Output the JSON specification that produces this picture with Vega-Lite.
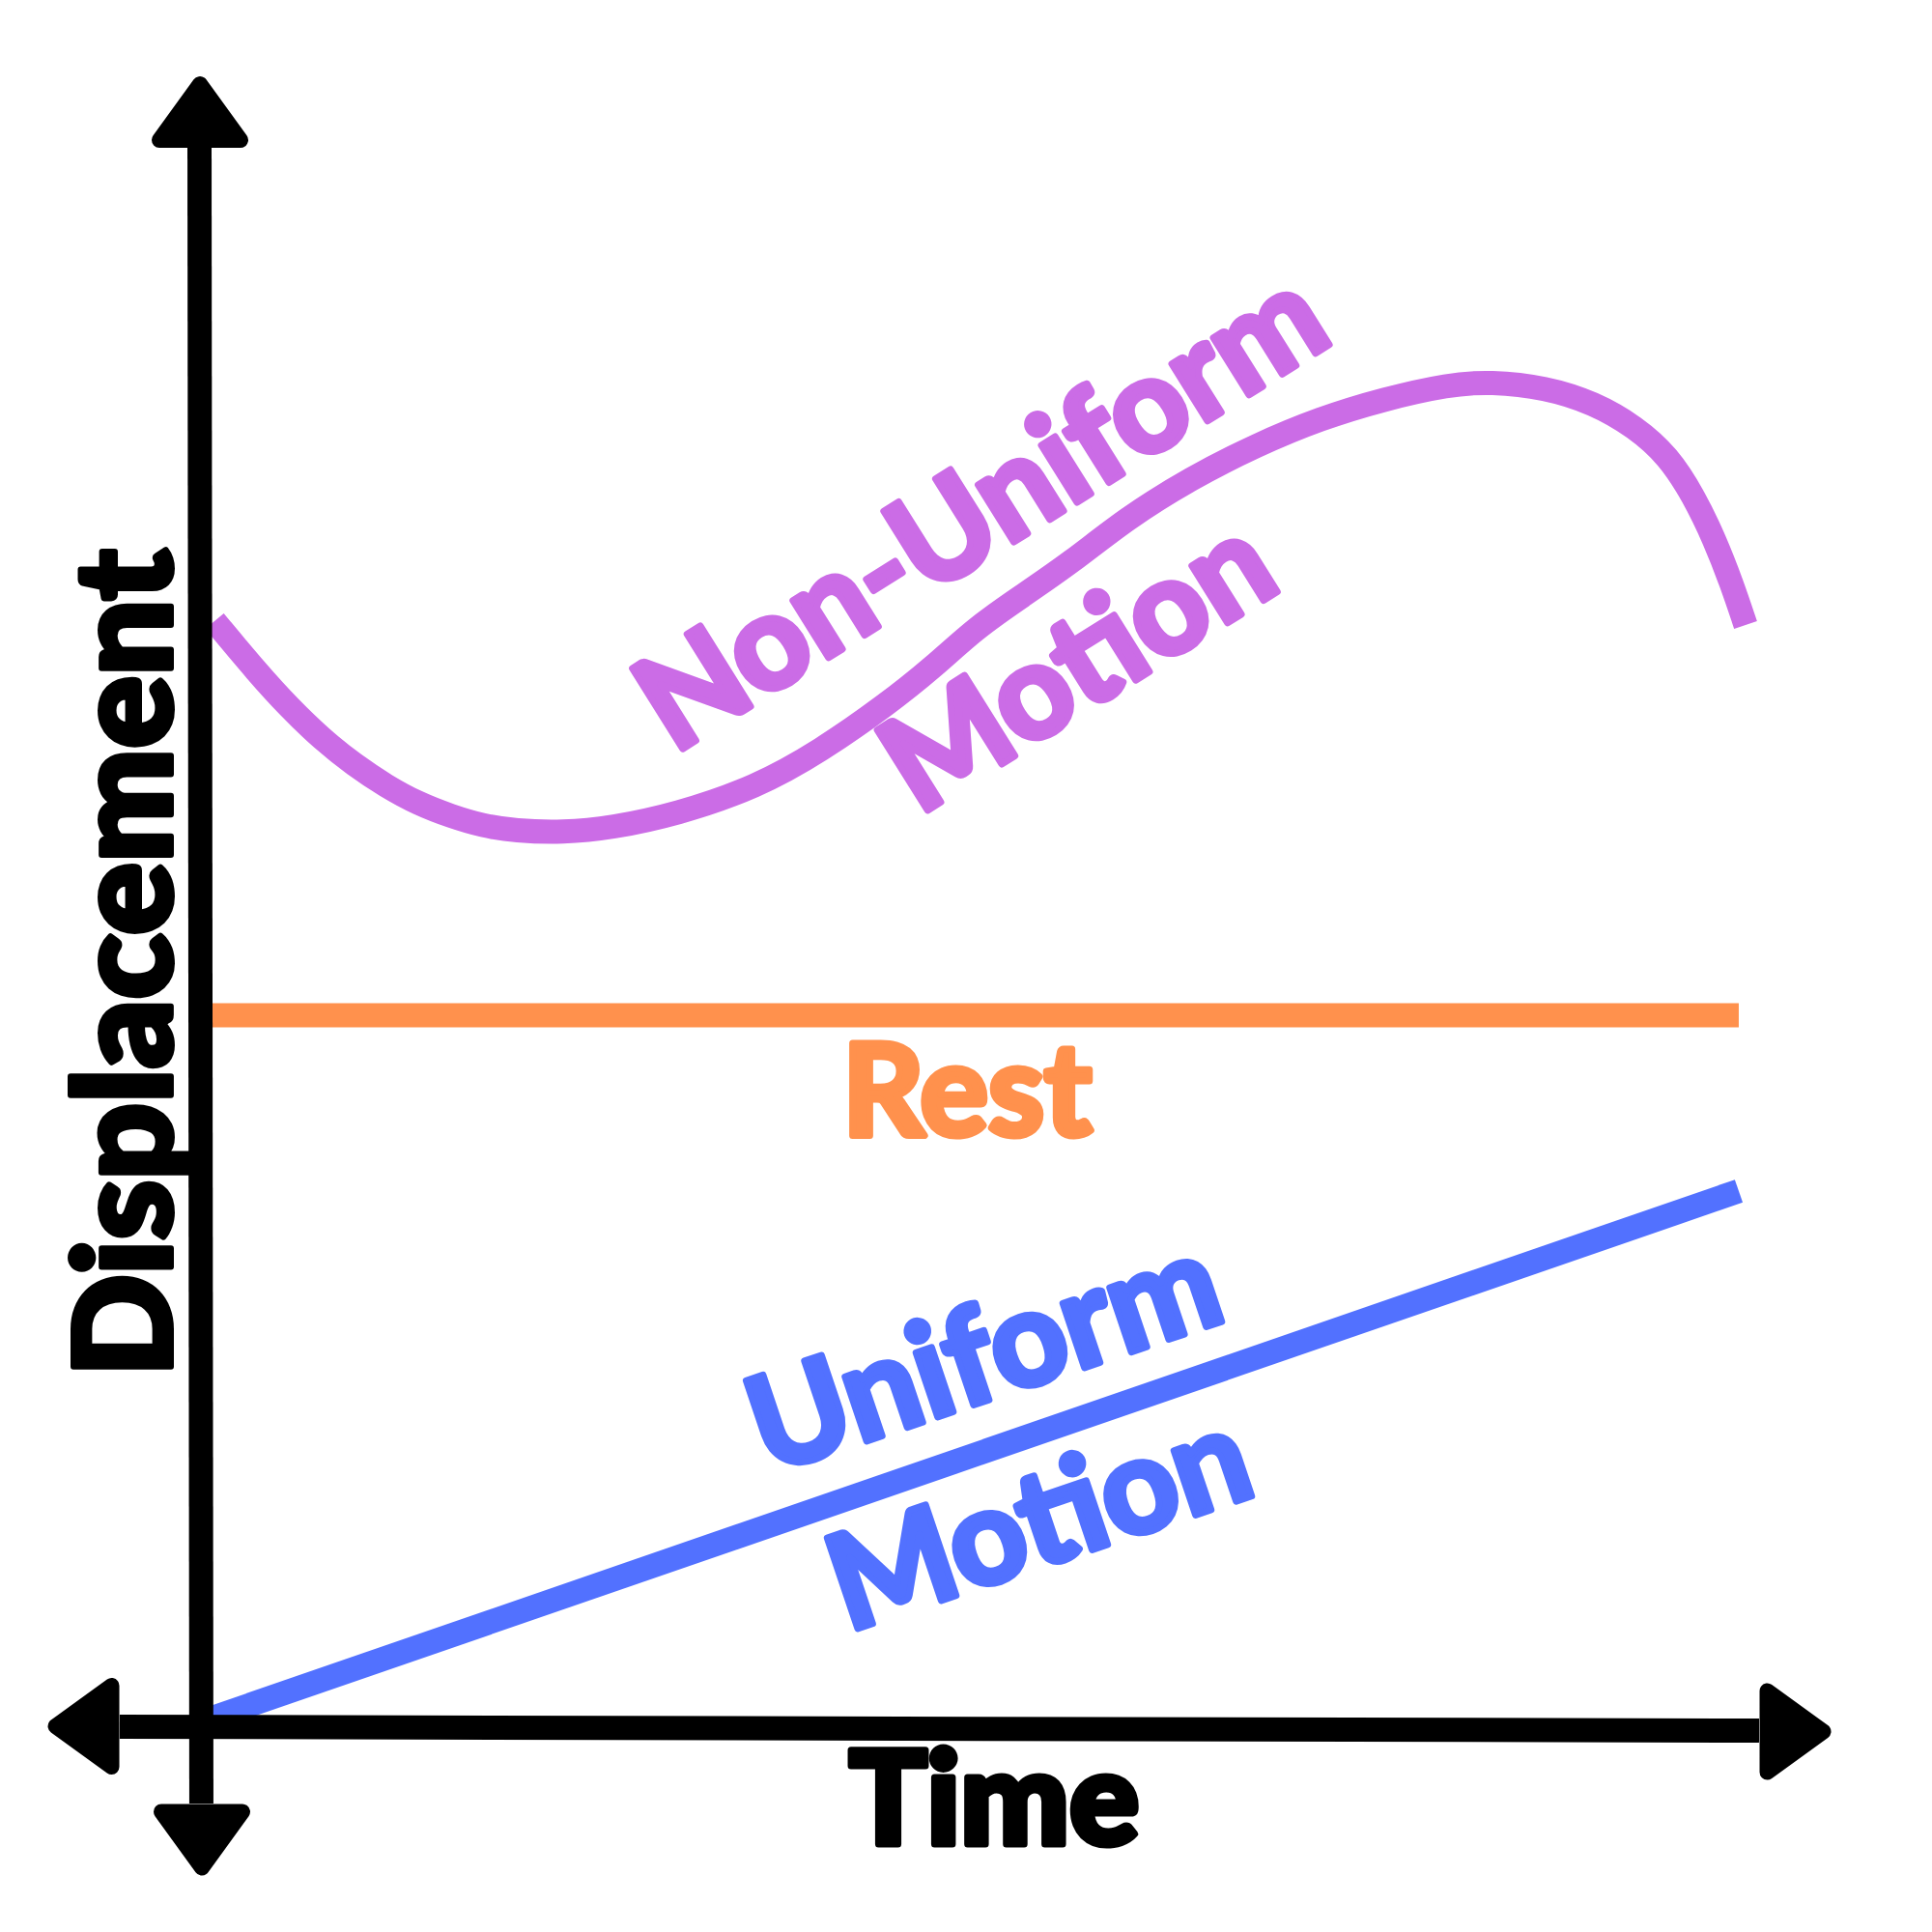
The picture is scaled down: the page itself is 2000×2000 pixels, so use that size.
{
  "$schema": "https://vega.github.io/schema/vega-lite/v6.json",
  "width": 2000,
  "height": 2000,
  "padding": 0,
  "autosize": {"type": "fit", "contains": "padding"},
  "background": "white",
  "config": {"view": {"stroke": null}},
  "encoding": {
    "x": {"field": "t", "type": "quantitative", "axis": null, "scale": {"domain": [-1.29375, 11.20625], "nice": false, "zero": false}},
    "y": {"field": "s", "type": "quantitative", "axis": null, "scale": {"domain": [-1.31875, 11.18125], "nice": false, "zero": false}}
  },
  "layer": [
    {
      "data": {"values": [
        {"series": "Non-Uniform Motion", "t": 0.094, "s": 7.1625},
        {"series": "Non-Uniform Motion", "t": 0.375, "s": 6.825},
        {"series": "Non-Uniform Motion", "t": 0.581, "s": 6.6},
        {"series": "Non-Uniform Motion", "t": 0.788, "s": 6.4},
        {"series": "Non-Uniform Motion", "t": 1.0, "s": 6.231},
        {"series": "Non-Uniform Motion", "t": 1.206, "s": 6.094},
        {"series": "Non-Uniform Motion", "t": 1.413, "s": 5.981},
        {"series": "Non-Uniform Motion", "t": 1.625, "s": 5.9},
        {"series": "Non-Uniform Motion", "t": 1.831, "s": 5.8375},
        {"series": "Non-Uniform Motion", "t": 2.038, "s": 5.806},
        {"series": "Non-Uniform Motion", "t": 2.35, "s": 5.794},
        {"series": "Non-Uniform Motion", "t": 2.6625, "s": 5.825},
        {"series": "Non-Uniform Motion", "t": 3.081, "s": 5.9125},
        {"series": "Non-Uniform Motion", "t": 3.6, "s": 6.0875},
        {"series": "Non-Uniform Motion", "t": 4.019, "s": 6.325},
        {"series": "Non-Uniform Motion", "t": 4.4375, "s": 6.619},
        {"series": "Non-Uniform Motion", "t": 4.75, "s": 6.869},
        {"series": "Non-Uniform Motion", "t": 5.019, "s": 7.119},
        {"series": "Non-Uniform Motion", "t": 5.319, "s": 7.325},
        {"series": "Non-Uniform Motion", "t": 5.631, "s": 7.5375},
        {"series": "Non-Uniform Motion", "t": 6.0, "s": 7.831},
        {"series": "Non-Uniform Motion", "t": 6.4125, "s": 8.0875},
        {"series": "Non-Uniform Motion", "t": 6.831, "s": 8.3},
        {"series": "Non-Uniform Motion", "t": 7.25, "s": 8.475},
        {"series": "Non-Uniform Motion", "t": 7.6625, "s": 8.6},
        {"series": "Non-Uniform Motion", "t": 8.081, "s": 8.694},
        {"series": "Non-Uniform Motion", "t": 8.35, "s": 8.7125},
        {"series": "Non-Uniform Motion", "t": 8.706, "s": 8.675},
        {"series": "Non-Uniform Motion", "t": 9.019, "s": 8.575},
        {"series": "Non-Uniform Motion", "t": 9.2875, "s": 8.419},
        {"series": "Non-Uniform Motion", "t": 9.5, "s": 8.231},
        {"series": "Non-Uniform Motion", "t": 9.6625, "s": 7.975},
        {"series": "Non-Uniform Motion", "t": 9.8, "s": 7.69},
        {"series": "Non-Uniform Motion", "t": 9.9125, "s": 7.4},
        {"series": "Non-Uniform Motion", "t": 10.0, "s": 7.1375},
        {"series": "Rest", "t": 0.081, "s": 4.6125},
        {"series": "Rest", "t": 9.956, "s": 4.6125},
        {"series": "Uniform Motion", "t": 0.05, "s": 0.05625},
        {"series": "Uniform Motion", "t": 9.956, "s": 3.475}
      ]},
      "mark": {"type": "line", "strokeWidth": 25, "strokeCap": "butt", "interpolate": "basis"},
      "encoding": {
        "color": {"field": "series", "type": "nominal", "legend": null,
          "scale": {"domain": ["Non-Uniform Motion", "Rest", "Uniform Motion"], "range": ["#cb6ce6", "#ff914d", "#5271ff"]}},
        "detail": {"field": "series"}
      }
    },
    {
      "data": {"values": [
        {"axis": "Displacement", "t": -0.003, "s": 10.225, "t2": 0.009, "s2": -0.4875},
        {"axis": "Time", "t": -0.519, "s": 0.009, "t2": 10.0875, "s2": -0.016}
      ]},
      "mark": {"type": "rule", "color": "black", "strokeWidth": 25, "strokeCap": "butt"},
      "encoding": {
        "x2": {"field": "t2"},
        "y2": {"field": "s2"}
      }
    },
    {
      "data": {"values": [
        {"dir": "up", "t": 0.0, "s": 10.456},
        {"dir": "down", "t": 0.0125, "s": -0.722},
        {"dir": "left", "t": -0.753, "s": 0.0125},
        {"dir": "right", "t": 10.322, "s": -0.022}
      ]},
      "mark": {"type": "point", "filled": true, "fill": "black", "stroke": "black", "strokeWidth": 16, "strokeJoin": "round", "size": 10000, "opacity": 1, "fillOpacity": 1, "strokeOpacity": 1},
      "encoding": {
        "shape": {"field": "dir", "type": "nominal", "legend": null,
          "scale": {"domain": ["up", "down", "left", "right"],
            "range": ["M0,-0.58L0.84,0.58L-0.84,0.58Z", "M0,0.58L0.84,-0.58L-0.84,-0.58Z", "M-0.58,0L0.58,-0.84L0.58,0.84Z", "M0.58,0L-0.58,-0.84L-0.58,0.84Z"]}}
      }
    },
    {
      "data": {"values": [
        {"label": "Non-Uniform", "t": 5.206, "s": 7.6375},
        {"label": "Motion", "t": 5.83, "s": 6.64}
      ]},
      "mark": {"type": "text", "font": "Lato", "fontWeight": "bold", "fontSize": 136, "color": "#cb6ce6", "stroke": "#cb6ce6", "strokeWidth": 7, "strokeJoin": "round", "angle": -32, "align": "center", "baseline": "alphabetic"},
      "encoding": {"text": {"field": "label"}}
    },
    {
      "data": {"values": [
        {"label": "Uniform", "t": 5.165, "s": 2.144},
        {"label": "Motion", "t": 5.52, "s": 1.069}
      ]},
      "mark": {"type": "text", "font": "Lato", "fontWeight": "bold", "fontSize": 137, "color": "#5271ff", "stroke": "#5271ff", "strokeWidth": 7, "strokeJoin": "round", "angle": -18.6, "align": "center", "baseline": "alphabetic"},
      "encoding": {"text": {"field": "label"}}
    },
    {
      "data": {"values": [{"label": "Rest", "t": 4.9625, "s": 3.8375}]},
      "mark": {"type": "text", "font": "Lato", "fontWeight": "bold", "fontSize": 132, "color": "#ff914d", "stroke": "#ff914d", "strokeWidth": 7, "strokeJoin": "round", "align": "center", "baseline": "alphabetic"},
      "encoding": {"text": {"field": "label"}}
    },
    {
      "data": {"values": [{"label": "Time", "t": 5.1375, "s": -0.75}]},
      "mark": {"type": "text", "font": "Lato", "fontWeight": 900, "fontSize": 134, "color": "black", "stroke": "black", "strokeWidth": 7, "strokeJoin": "round", "align": "center", "baseline": "alphabetic"},
      "encoding": {"text": {"field": "label"}}
    },
    {
      "data": {"values": [{"label": "Displacement", "t": -0.1875, "s": 4.95}]},
      "mark": {"type": "text", "font": "Lato", "fontWeight": 900, "fontSize": 140, "color": "black", "stroke": "black", "strokeWidth": 6, "strokeJoin": "round", "angle": -90, "align": "center", "baseline": "alphabetic"},
      "encoding": {"text": {"field": "label"}}
    }
  ]
}
